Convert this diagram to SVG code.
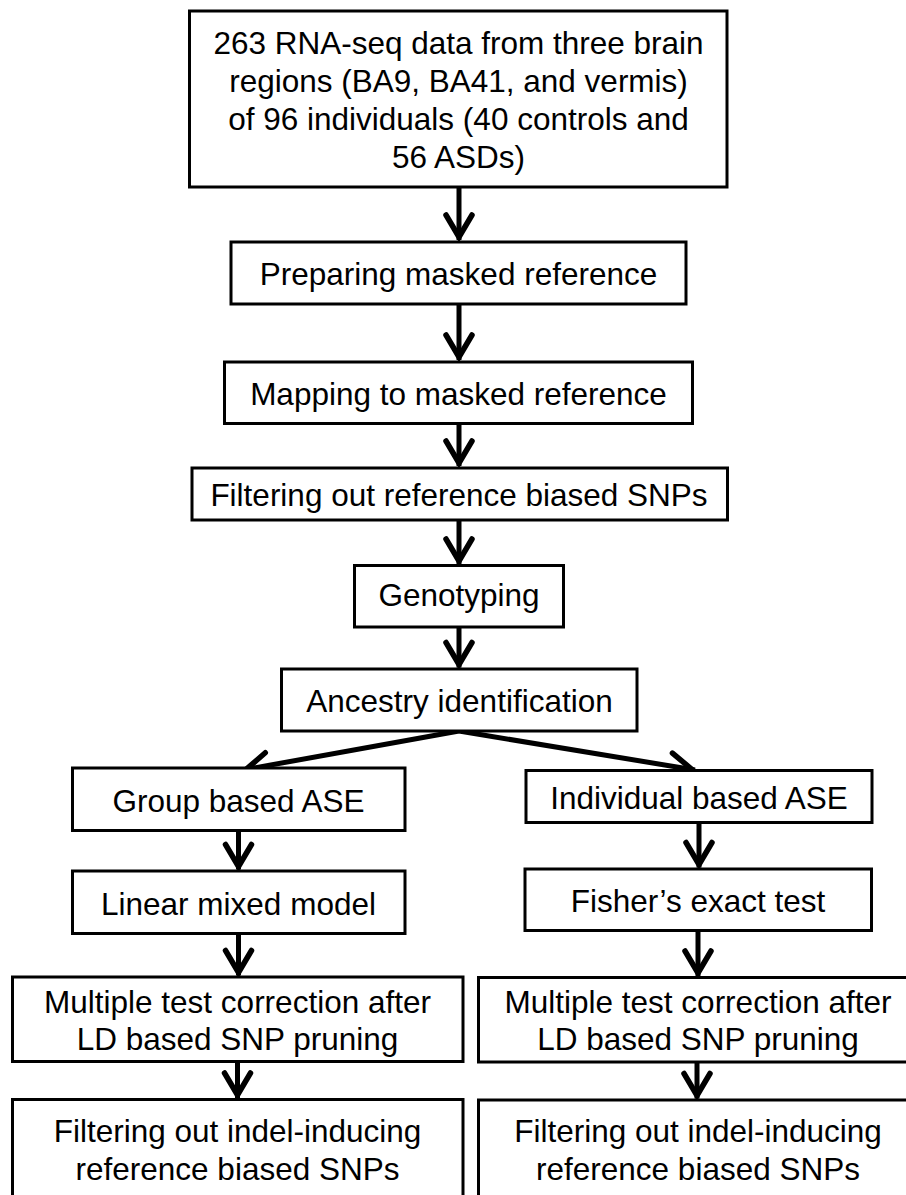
<svg xmlns="http://www.w3.org/2000/svg" width="906" height="1195" viewBox="0 0 906 1195">
<style>
.box{fill:#fff;stroke:#000;stroke-width:3}
.t{font-family:"Liberation Sans",Arial,sans-serif;font-size:31.5px;fill:#000;text-anchor:middle}
.c{stroke:#000;stroke-width:5;fill:none;marker-end:url(#ah)}
</style>
<defs>
<marker id="ah" markerUnits="userSpaceOnUse" markerWidth="40" markerHeight="40" refX="3" refY="0" orient="auto" overflow="visible">
<path d="M-22,-13 L0,0 L-22,13" fill="none" stroke="#000" stroke-width="5.5" stroke-linejoin="miter" stroke-linecap="round"/>
</marker>
</defs>
<rect width="906" height="1195" fill="#fff"/>
<g id="connectors">
<line class="c" x1="459" y1="187" x2="459" y2="240"/>
<line class="c" x1="459" y1="304" x2="459" y2="360"/>
<line class="c" x1="459" y1="423.5" x2="459" y2="466"/>
<line class="c" x1="459" y1="520" x2="459" y2="564"/>
<line class="c" x1="459" y1="627" x2="459" y2="667.5"/>
<line class="c" x1="459" y1="731" x2="243" y2="770"/>
<line class="c" x1="459" y1="731" x2="695" y2="770"/>
<line class="c" x1="238.5" y1="830.5" x2="238.5" y2="869.5"/>
<line class="c" x1="699" y1="822.5" x2="699" y2="867.5"/>
<line class="c" x1="238.5" y1="933.5" x2="238.5" y2="975.5"/>
<line class="c" x1="698" y1="930.5" x2="698" y2="976"/>
<line class="c" x1="237.5" y1="1061.5" x2="237.5" y2="1098"/>
<line class="c" x1="697" y1="1062" x2="697" y2="1098.5"/>
</g>
<g id="n1">
<rect class="box" x="189.5" y="11" width="537.5" height="176"/>
<text class="t" x="458.5" y="54">263 RNA-seq data from three brain</text>
<text class="t" x="458.5" y="92">regions (BA9, BA41, and vermis)</text>
<text class="t" x="458.5" y="130">of 96 individuals (40 controls and</text>
<text class="t" x="458.5" y="168">56 ASDs)</text>
</g>
<g id="n2">
<rect class="box" x="231" y="242" width="455" height="62"/>
<text class="t" x="458.5" y="285">Preparing masked reference</text>
</g>
<g id="n3">
<rect class="box" x="224.5" y="362" width="468" height="61.5"/>
<text class="t" x="458.5" y="405">Mapping to masked reference</text>
</g>
<g id="n4">
<rect class="box" x="192" y="468" width="535.5" height="52"/>
<text class="t" x="459" y="505.5">Filtering out reference biased SNPs</text>
</g>
<g id="n5">
<rect class="box" x="354.5" y="565.5" width="209" height="61.5"/>
<text class="t" x="459" y="606">Genotyping</text>
</g>
<g id="n6">
<rect class="box" x="281.5" y="669" width="355.5" height="62"/>
<text class="t" x="459.5" y="712">Ancestry identification</text>
</g>
<g id="n7">
<rect class="box" x="72.5" y="768" width="332.5" height="62.5"/>
<text class="t" x="238.5" y="811.5">Group based ASE</text>
</g>
<g id="n8">
<rect class="box" x="526" y="770.5" width="346" height="52"/>
<text class="t" x="699" y="808.5">Individual based ASE</text>
</g>
<g id="n9">
<rect class="box" x="72.5" y="871" width="332.5" height="62.5"/>
<text class="t" x="238.5" y="915">Linear mixed model</text>
</g>
<g id="n10">
<rect class="box" x="525" y="869" width="346.5" height="61.5"/>
<text class="t" x="698" y="911.5">Fisher’s exact test</text>
</g>
<g id="n11">
<rect class="box" x="12.5" y="977" width="450.5" height="84.5"/>
<text class="t" x="237.5" y="1013">Multiple test correction after</text>
<text class="t" x="237.5" y="1050">LD based SNP pruning</text>
</g>
<g id="n12">
<rect class="box" x="478.5" y="977.5" width="451" height="84.5"/>
<text class="t" x="698" y="1013">Multiple test correction after</text>
<text class="t" x="698" y="1050">LD based SNP pruning</text>
</g>
<g id="n13">
<rect class="box" x="12.5" y="1099.5" width="450.5" height="120"/>
<text class="t" x="237.5" y="1141.5">Filtering out indel-inducing</text>
<text class="t" x="237.5" y="1180">reference biased SNPs</text>
</g>
<g id="n14">
<rect class="box" x="478.5" y="1100" width="451" height="120"/>
<text class="t" x="698" y="1141.5">Filtering out indel-inducing</text>
<text class="t" x="698" y="1180">reference biased SNPs</text>
</g>
</svg>
